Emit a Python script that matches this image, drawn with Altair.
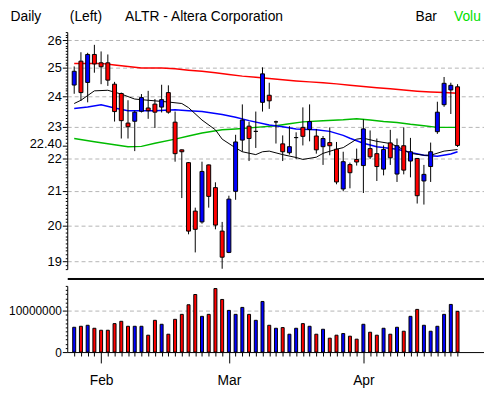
import altair as alt
import pandas as pd

# ---------------- data ----------------
opens = [24.40, 25.24, 24.49, 25.48, 25.18, 25.18, 24.43, 24.11, 23.12, 23.18,
         23.51, 23.62, 23.75, 23.65, 24.14, 23.15, 22.26, 21.86, 20.41, 20.10,
         21.79, 21.10, 19.84, 19.25, 20.99, 22.57, 23.02, 22.85, 23.81, 24.05,
         23.16, 22.45, 22.17, 22.65, 22.98, 22.91, 22.70, 22.36, 22.49, 22.28,
         21.06, 21.80, 21.96, 21.77, 22.30, 22.14, 21.66, 22.48, 21.51, 22.39,
         21.91, 21.99, 21.30, 21.74, 22.84, 23.73, 24.23, 24.34]
highs = [25.05, 25.56, 25.54, 25.83, 25.59, 25.48, 24.51, 24.14, 23.88, 23.53,
         24.09, 24.20, 23.92, 24.41, 24.39, 23.50, 22.27, 21.88, 20.51, 21.89,
         21.80, 21.26, 20.10, 20.86, 22.74, 23.74, 23.16, 23.50, 25.02, 24.48,
         23.20, 22.72, 23.02, 22.82, 23.64, 23.74, 22.93, 22.70, 22.98, 22.51,
         22.20, 21.86, 22.30, 23.24, 22.88, 22.62, 22.40, 22.90, 22.62, 22.98,
         22.64, 22.00, 21.79, 22.49, 23.83, 24.68, 24.48, 24.43]
lows = [24.10, 23.86, 23.81, 24.83, 24.43, 24.37, 23.17, 22.62, 22.62, 22.22,
        23.47, 23.26, 22.96, 23.47, 23.43, 21.89, 20.79, 19.75, 19.25, 20.05,
        20.51, 19.89, 18.81, 19.23, 20.74, 22.20, 21.91, 22.32, 23.50, 23.59,
        22.46, 21.91, 22.11, 21.97, 22.40, 22.53, 22.14, 21.79, 22.09, 21.20,
        20.99, 21.08, 21.77, 20.94, 21.97, 21.30, 21.47, 21.79, 21.27, 21.50,
        21.41, 20.63, 20.60, 21.27, 22.77, 23.66, 23.42, 22.35]
closes = [24.88, 24.14, 25.48, 25.14, 25.04, 24.57, 23.50, 23.20, 23.00, 23.48,
          23.97, 23.53, 23.48, 23.90, 23.48, 22.14, 22.20, 19.84, 19.89, 21.59,
          20.84, 20.01, 19.12, 20.76, 22.51, 23.22, 22.62, 22.85, 24.79, 23.86,
          23.16, 22.20, 22.36, 22.65, 22.69, 23.17, 22.26, 22.62, 22.39, 21.27,
          21.89, 21.55, 21.88, 22.93, 22.04, 21.74, 22.27, 22.01, 22.39, 21.63,
          22.20, 20.86, 21.50, 22.20, 23.48, 24.46, 24.39, 22.40]
volumes = [6000000, 6240000, 6480000, 5760000, 5280000, 5280000, 6880000, 7440000,
           6240000, 6240000, 6240000, 4080000, 7680000, 6720000, 4320000, 7920000,
           9120000, 11440000, 13920000, 8640000, 9120000, 15360000, 12720000,
           10080000, 9120000, 10800000, 9120000, 7680000, 12240000, 6480000,
           5760000, 5920000, 4320000, 5760000, 6880000, 6240000, 4320000, 5520000,
           3360000, 4080000, 4480000, 3840000, 3120000, 6720000, 4800000, 4080000,
           5760000, 4320000, 6000000, 5040000, 8640000, 10320000, 6480000, 5040000,
           6240000, 9120000, 11520000, 9840000]

# moving-average lines (bar index, price)
ma_red_idx = [0, 4, 6, 8, 10, 13, 15, 17, 19, 21, 23, 25, 27, 29, 31, 33, 35, 37,
              39, 41, 43, 45, 47, 49, 51, 53, 55, 57]
ma_red_val = [25.16, 25.16, 25.10, 25.05, 25.00, 25.00, 24.97, 24.92, 24.88, 24.83,
              24.77, 24.71, 24.67, 24.63, 24.58, 24.54, 24.51, 24.48, 24.44, 24.39,
              24.35, 24.31, 24.27, 24.23, 24.19, 24.16, 24.14, 24.12]
ma_green_idx = [0, 3, 6, 8, 10, 12, 15, 17, 19, 22, 24, 27, 30, 32, 34, 37, 40, 42,
                44, 46, 48, 50, 52, 54, 57]
ma_green_val = [22.62, 22.52, 22.42, 22.36, 22.37, 22.47, 22.60, 22.70, 22.80, 22.90,
                22.93, 22.98, 23.03, 23.10, 23.16, 23.20, 23.23, 23.26, 23.22, 23.17,
                23.14, 23.08, 23.03, 22.98, 22.98]
ma_blue_idx = [0, 2, 4, 6, 8, 12, 15, 17, 19, 22, 24, 26, 29, 31, 33, 36, 38, 40, 41,
               43, 45, 48, 50, 52, 54, 56, 57]
ma_blue_val = [23.60, 23.65, 23.73, 23.62, 23.53, 23.53, 23.56, 23.53, 23.50, 23.40,
               23.31, 23.20, 23.06, 23.00, 22.93, 22.90, 22.85, 22.72, 22.63, 22.47,
               22.36, 22.28, 22.18, 22.09, 22.06, 22.13, 22.20]
ma_black_idx = [0, 1, 3, 5, 7, 9, 11, 14, 16, 17, 19, 21, 22, 24, 25, 27, 28, 29, 31,
                33, 34, 36, 37, 39, 40, 42, 43, 45, 47, 48, 50, 52, 53, 55, 57]
ma_black_val = [23.77, 23.88, 24.20, 24.22, 24.09, 23.92, 23.88, 23.82, 23.77, 23.63,
                23.22, 22.90, 22.60, 22.32, 22.20, 22.11, 22.20, 22.22, 22.11, 22.02,
                21.96, 22.03, 22.15, 22.28, 22.33, 22.60, 22.63, 22.53, 22.46, 22.37,
                22.15, 22.09, 22.09, 22.22, 22.27]

month_index = [4, 23, 43]
month_labels = ["Feb", "Mar", "Apr"]
price_major = [19, 20, 21, 22, 23, 24, 25, 26]
volume_major = [0, 10000000]
header_texts = ["Daily", "(Left)", "ALTR - Altera Corporation", "Bar", "Volume"]

# ---------------- frames ----------------
n = len(closes)
bars = pd.DataFrame({"idx": list(range(n)), "open": opens, "high": highs,
                     "low": lows, "close": closes, "volume": volumes})
ma_sets = [
    (ma_red_idx, ma_red_val, "#ff0000", 1.5),
    (ma_green_idx, ma_green_val, "#00bb00", 1.5),
    (ma_blue_idx, ma_blue_val, "#0000ff", 1.5),
    (ma_black_idx, ma_black_val, "#000000", 1.0),
]

FONT = "Liberation Sans"
last_close = closes[-1]
UPDOWN = alt.condition("datum.close >= datum.open", alt.value("#0000ff"), alt.value("#ff0000"))

x_scale = alt.Scale(domain=[-0.3, 60.2], nice=False, zero=False)
y_scale = alt.Scale(type="log", domain=[18.8, 26.3], nice=False, zero=False)
v_scale = alt.Scale(domain=[0, 16000000], nice=False, zero=True)

# axis tick positions (minor ticks every 0.1 / every 1M / every bar)
price_ticks = sorted(set(round(18.8 + 0.1 * k, 1) for k in range(76)))
vol_ticks = [k * 1000000 for k in range(17)]
bar_ticks = list(range(n))

is_int = "abs(datum.value - round(datum.value)) < 0.001"
is_last = f"abs(datum.value - {last_close}) < 0.001"
price_label_expr = (f"{is_last} ? '{last_close:.2f}' : "
                    f"(indexof({price_major}, round(datum.value)) >= 0 && {is_int} ? format(datum.value, 'd') : '')")

price_y_axis = alt.Axis(
    values=price_ticks, labelExpr=price_label_expr, labelOverlap=False,
    tickSize={"condition": {"test": f"{is_int} || {is_last}", "value": 5}, "value": 2},
    labelOffset={"condition": {"test": is_last, "value": -2}, "value": 0},
    grid=True, gridDash=[4, 3], gridColor="#b4b4b4",
    gridOpacity={"condition": {"test": is_int, "value": 1}, "value": 0},
    domainColor="#000000", tickColor="#000000", labelColor="#000000",
    labelFont=FONT, labelFontSize=13, labelPadding=1, title=None,
)
price_x_axis = alt.Axis(orient="bottom", labels=False, ticks=False, grid=False,
                        domain=True, domainColor="#000000", offset=9, title=None)

X = alt.X("idx:Q", scale=x_scale, axis=price_x_axis)

layers = []
for mi, mv, col, sw in ma_sets:
    df = pd.DataFrame({"idx": mi, "price": mv})
    layers.append(
        alt.Chart(df).mark_line(color=col, strokeWidth=sw).encode(
            x=X, y=alt.Y("price:Q", scale=y_scale, axis=price_y_axis))
    )

wicks = alt.Chart(bars).mark_rule(color="#000000", strokeWidth=1).encode(
    x=X, y=alt.Y("low:Q", scale=y_scale, axis=price_y_axis), y2="high:Q")
bodies = alt.Chart(bars).mark_bar(width=4, stroke="#000000", strokeWidth=1).encode(
    x=X, y=alt.Y("open:Q", scale=y_scale, axis=price_y_axis), y2="close:Q", color=UPDOWN)
layers += [wicks, bodies]

header_pos = [-57.4, 2.6, 58.6, 352.6, 391.6]
header_col = ["#000000", "#000000", "#000000", "#000000", "#00e000"]
for t, px, c in zip(header_texts, header_pos, header_col):
    mark_kw = dict(align="left", baseline="alphabetic", font=FONT, fontSize=14, color=c)
    if t == "Volume":
        mark_kw.update(limit=33, ellipsis="\u200b")
    layers.append(
        alt.Chart(pd.DataFrame({"label": [t]})).mark_text(**mark_kw).encode(
            x=alt.value(px), y=alt.value(-11), text="label:N")
    )

price_chart = alt.layer(*layers).properties(width=422, height=240)

# ---------------- volume panel ----------------
month_expr = " : ".join(f"datum.value == {i} ? '{l}'" for i, l in zip(month_index, month_labels)) + " : ''"
vol_x_axis = alt.Axis(
    orient="bottom", values=bar_ticks, labelExpr=month_expr, labelOverlap=False,
    labelFlush=False,
    tickSize={"condition": {"test": f"indexof({month_index}, datum.value) >= 0", "value": 11}, "value": 4},
    grid=False, domainColor="#000000", tickColor="#000000", labelColor="#000000",
    labelFont=FONT, labelFontSize=14, labelPadding=11, title=None,
)
vol_y_axis = alt.Axis(
    values=vol_ticks, labelOverlap=False,
    labelExpr=f"indexof({volume_major}, datum.value) >= 0 ? format(datum.value, 'd') : ''",
    tickSize={"condition": {"test": f"indexof({volume_major}, datum.value) >= 0", "value": 5}, "value": 2},
    grid=True, gridDash=[4, 3], gridColor="#b4b4b4",
    gridOpacity={"condition": {"test": f"datum.value == {volume_major[1]}", "value": 1}, "value": 0},
    domainColor="#000000", tickColor="#000000", labelColor="#000000",
    labelFont=FONT, labelFontSize=12, labelPadding=1, title=None,
)

vol_bars = alt.Chart(bars).mark_bar(width=3, stroke="#000000", strokeWidth=1).encode(
    x=alt.X("idx:Q", scale=x_scale, axis=vol_x_axis),
    y=alt.Y("volume:Q", scale=v_scale, axis=vol_y_axis),
    color=UPDOWN,
)
vol_top = alt.Chart(bars).mark_rule(opacity=0).encode(
    x=alt.X("idx:Q", scale=x_scale,
            axis=alt.Axis(orient="top", labels=False, ticks=False, grid=False,
                          domainColor="#000000", offset=7, title=None)),
)
volume_chart = alt.layer(vol_bars, vol_top).resolve_axis(x="independent").properties(
    width=422, height=67)

chart = alt.vconcat(price_chart, volume_chart, spacing=1).properties(
    padding=0, background="white"
).configure_view(stroke=None)

chart.save("out.html", embed_options={"renderer": "svg", "actions": False})
